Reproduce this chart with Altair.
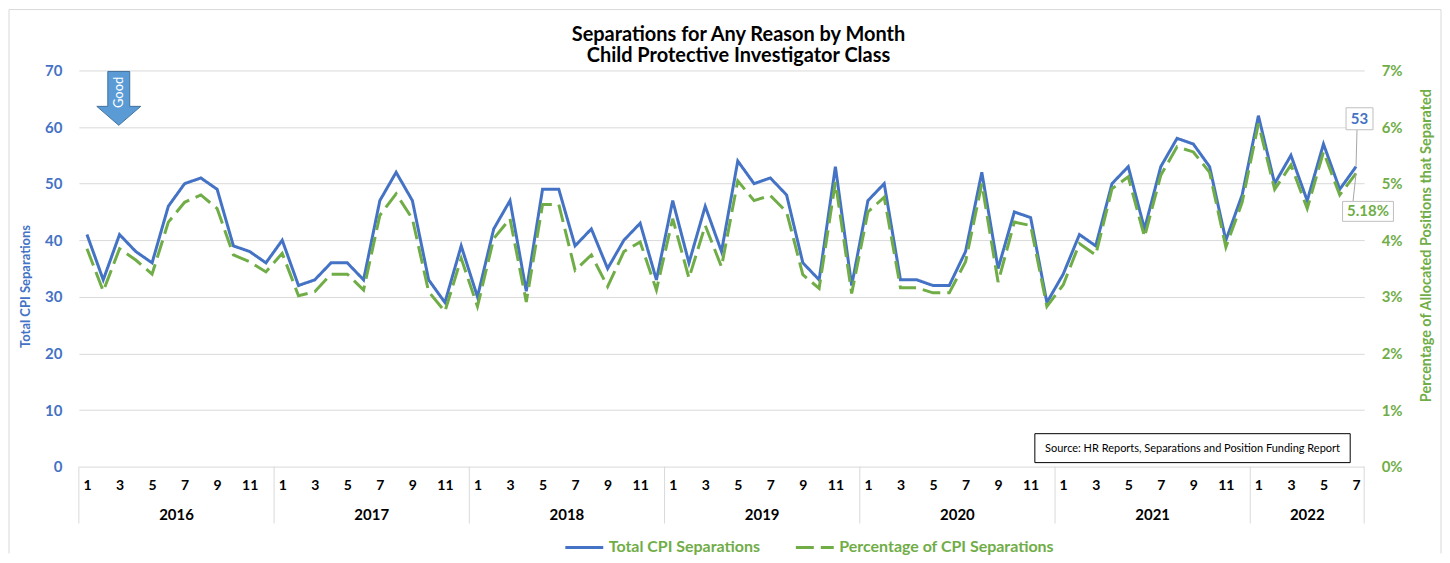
import altair as alt
import pandas as pd

# ---------------- data ----------------
YEARS = ["2016", "2017", "2018", "2019", "2020", "2021", "2022"]

TOTAL = [
    41, 33, 41, 38, 36, 46, 50, 51, 49, 39, 38, 36,   # 2016
    40, 32, 33, 36, 36, 33, 47, 52, 47, 33, 29, 39,   # 2017
    30, 42, 47, 31, 49, 49, 39, 42, 35, 40, 43, 33,   # 2018
    47, 36, 46, 38, 54, 50, 51, 48, 36, 33, 53, 32,   # 2019
    47, 50, 33, 33, 32, 32, 38, 52, 35, 45, 44, 29,   # 2020
    34, 41, 39, 50, 53, 42, 53, 58, 57, 53, 40, 48,   # 2021
    62, 50, 55, 47, 57, 49, 53,                       # 2022
]

PCT = [
    3.85, 3.10, 3.85, 3.65, 3.40, 4.32, 4.67, 4.80, 4.56, 3.74, 3.62, 3.44,
    3.77, 3.02, 3.09, 3.40, 3.40, 3.12, 4.44, 4.82, 4.38, 3.09, 2.74, 3.68,
    2.83, 4.03, 4.38, 2.91, 4.63, 4.63, 3.47, 3.74, 3.18, 3.80, 3.97, 3.12,
    4.38, 3.33, 4.26, 3.53, 5.05, 4.70, 4.79, 4.50, 3.39, 3.15, 5.03, 3.06,
    4.50, 4.76, 3.16, 3.16, 3.07, 3.07, 3.62, 5.00, 3.26, 4.32, 4.26, 2.83,
    3.21, 3.94, 3.74, 4.91, 5.12, 4.06, 5.15, 5.65, 5.56, 5.20, 3.88, 4.67,
    6.06, 4.90, 5.33, 4.56, 5.56, 4.80, 5.18,
]

SERIES = ["Total CPI Separations", "Percentage of CPI Separations"]
TITLE_LINES = ["Separations for Any Reason by Month", "Child Protective Investigator Class"]
SOURCE = "Source: HR Reports, Separations and Position Funding Report"
LEFT_TITLE = "Total CPI Separations"
RIGHT_TITLE = "Percentage of Allocated Positions that Separated"

# ---------------- styles ----------------
BLUE = "#4472C4"
GREEN = "#70AD47"
GRID = "#D9D9D9"
FONT = "Lato"
W, H = 1288, 397

n = len(TOTAL)
df = pd.DataFrame({"idx": list(range(n)), "total": TOTAL, "pct": [p / 100 for p in PCT]})
last = df.iloc[[-1]].reset_index(drop=True)

centers = []
for k in range(len(YEARS)):
    s = 12 * k
    e = min(12 * k + 11, n - 1)
    centers.append((s + e) / 2)
years_df = pd.DataFrame({"year": YEARS, "center": centers})
bounds_df = pd.DataFrame({"b": [12 * k - 0.5 for k in range(len(YEARS))] + [n - 0.5]})

dummy = alt.Data(values=[{"a": 1}])

xscale = alt.Scale(domain=[-0.5, n - 0.5], nice=False, zero=False)
xaxis = alt.Axis(
    values=[i for i in range(n) if i % 2 == 0],
    labelExpr="datum.value % 12 + 1",
    title=None, domain=False, ticks=False, grid=False,
    labelFont=FONT, labelFontWeight="bold", labelFontSize=14, labelColor="black",
    labelPadding=12, labelOverlap=False, labelFlush=False, labelBound=False,
)

yl_scale = alt.Scale(domain=[0, 70], nice=False)
yl_axis = alt.Axis(
    values=list(range(0, 71, 10)), title=LEFT_TITLE, grid=True, ticks=False, domain=False,
    labelColor=BLUE, labelFont=FONT, labelFontWeight="bold", labelFontSize=15, labelPadding=17,
    titleColor=BLUE, titleFont=FONT, titleFontWeight="bold", titleFontSize=13,
    titleAngle=270, titleX=-53, titleY=216, titleAlign="center", titleBaseline="middle",
)
yr_scale = alt.Scale(domain=[0, 0.07], nice=False)
yr_axis = alt.Axis(
    orient="right", format=".0%", values=[0, 0.01, 0.02, 0.03, 0.04, 0.05, 0.06, 0.07],
    grid=False, ticks=False, domain=False, title=RIGHT_TITLE,
    labelColor=GREEN, labelFont=FONT, labelFontWeight="bold", labelFontSize=15, labelPadding=17,
    titleColor=GREEN, titleFont=FONT, titleFontWeight="bold", titleFontSize=14.5,
    titleAngle=270, titleX=62, titleY=175, titleAlign="center", titleBaseline="middle",
)


def X(field):
    return alt.X(field, scale=xscale, axis=xaxis)


def YL(field):
    return alt.Y(field, scale=yl_scale, axis=yl_axis)


def YR(field):
    return alt.Y(field, scale=yr_scale, axis=yr_axis)


color_scale = alt.Scale(domain=SERIES, range=[BLUE, GREEN])
dash_scale = alt.Scale(domain=SERIES, range=[[1, 0], [18, 7]])
legend = alt.Legend(
    title=None, orient="none", legendX=486, legendY=470, direction="horizontal",
    symbolType="stroke", symbolSize=1444, symbolStrokeWidth=3, clipHeight=16,
    labelFont=FONT, labelFontWeight="bold", labelFontSize=16, labelColor=GREEN,
    labelOffset=4, columnPadding=34, labelLimit=400,
)

# ---------------- left-axis group ----------------
blue = alt.Chart(df).transform_calculate(series=f'"{SERIES[0]}"').mark_line(strokeWidth=3).encode(
    x=X("idx:Q"),
    y=YL("total:Q"),
    color=alt.Color("series:N", scale=color_scale, legend=legend),
    strokeDash=alt.StrokeDash("series:N", scale=dash_scale, legend=legend),
)

year_text = alt.Chart(years_df).mark_text(
    font=FONT, fontWeight="bold", fontSize=15, color="black", baseline="middle"
).encode(x=X("center:Q"), y=alt.value(445), text="year:N")

seps = alt.Chart(bounds_df).mark_rule(color=GRID, strokeWidth=1).encode(
    x=X("b:Q"), y=alt.value(H), y2=alt.value(454)
)

border_l = alt.Chart(dummy).mark_rule(color=GRID).encode(x=alt.value(-70), y=alt.value(-61), y2=alt.value(484))
border_r = alt.Chart(dummy).mark_rule(color=GRID).encode(x=alt.value(1365), y=alt.value(-61), y2=alt.value(484))
border_t = alt.Chart(dummy).mark_rule(color=GRID).encode(x=alt.value(-70), x2=alt.value(1365), y=alt.value(-61))

title1 = alt.Chart(dummy).mark_text(font=FONT, fontWeight="bold", fontSize=20, color="black", baseline="middle").encode(
    x=alt.value(661), y=alt.value(-36), text=alt.value(TITLE_LINES[0]))
title2 = alt.Chart(dummy).mark_text(font=FONT, fontWeight="bold", fontSize=20, color="black", baseline="middle").encode(
    x=alt.value(661), y=alt.value(-14), text=alt.value(TITLE_LINES[1]))

src_box = alt.Chart(dummy).mark_rect(fill="white", stroke="black", strokeWidth=1).encode(
    x=alt.value(958), x2=alt.value(1274), y=alt.value(364), y2=alt.value(393))
src_text = alt.Chart(dummy).mark_text(font=FONT, fontSize=11, color="black", baseline="middle").encode(
    x=alt.value(1116), y=alt.value(379), text=alt.value(SOURCE))

ARROW = "M-0.407,-1L0.407,-1L0.407,0.296L0.815,0.296L0,1L-0.815,0.296L-0.407,0.296Z"
arrow = alt.Chart(dummy).mark_point(
    shape=ARROW, size=2916, filled=True, fill="#5B9BD5", stroke="#41719C", strokeWidth=1, opacity=1
).encode(x=alt.value(40), y=alt.value(28))
good = alt.Chart(dummy).mark_text(font=FONT, fontSize=13, color="white", angle=270, baseline="middle").encode(
    x=alt.value(40), y=alt.value(22), text=alt.value("Good"))

c53_line = alt.Chart(last).mark_rule(color="#A6A6A6", strokeWidth=1, y2Offset=-37, x2Offset=1).encode(
    x=X("idx:Q"), x2="idx:Q", y=YL("total:Q"), y2="total:Q")
c53_box = alt.Chart(last).mark_point(
    shape="M-1,-0.815H1V0.815H-1Z", size=729, filled=True, fill="white", stroke="#BFBFBF",
    strokeWidth=1, opacity=1, xOffset=3.5, yOffset=-48,
).encode(x=X("idx:Q"), y=YL("total:Q"))
c53_text = alt.Chart(last).mark_text(
    font=FONT, fontWeight="bold", fontSize=15, color=BLUE, dx=3.5, dy=-48, baseline="middle"
).encode(x=X("idx:Q"), y=YL("total:Q"), text=alt.Text("total:Q"))

left_group = alt.layer(
    blue, border_l, border_r, border_t, seps, year_text, title1, title2, src_box, src_text,
    arrow, good, c53_line, c53_box, c53_text,
)

# ---------------- right-axis group ----------------
green = alt.Chart(df).transform_calculate(series=f'"{SERIES[1]}"').mark_line(strokeWidth=3).encode(
    x=X("idx:Q"),
    y=YR("pct:Q"),
    color=alt.Color("series:N", scale=color_scale, legend=legend),
    strokeDash=alt.StrokeDash("series:N", scale=dash_scale, legend=legend),
)

c518_line = alt.Chart(last).mark_rule(color="#A6A6A6", strokeWidth=1, y2Offset=28, x2Offset=-3).encode(
    x=X("idx:Q"), x2="idx:Q", y=YR("pct:Q"), y2="pct:Q")
c518_box = alt.Chart(last).mark_point(
    shape="M-1,-0.392H1V0.392H-1Z", size=2601, filled=True, fill="white", stroke="#BFBFBF",
    strokeWidth=1, opacity=1, xOffset=12, yOffset=38,
).encode(x=X("idx:Q"), y=YR("pct:Q"))
c518_text = alt.Chart(last).mark_text(
    font=FONT, fontWeight="bold", fontSize=15, color=GREEN, dx=12, dy=38, baseline="middle"
).encode(x=X("idx:Q"), y=YR("pct:Q"), text=alt.Text("pct:Q", format=".2%"))

right_group = alt.layer(green, c518_line, c518_box, c518_text)

chart = (
    alt.layer(left_group, right_group)
    .resolve_scale(y="independent")
    .properties(width=W, height=H, padding=0)
    .configure_view(strokeWidth=0)
    .configure_axis(gridColor=GRID, gridWidth=1)
)

chart.save("out.html", embed_options={"renderer": "svg", "actions": False})
